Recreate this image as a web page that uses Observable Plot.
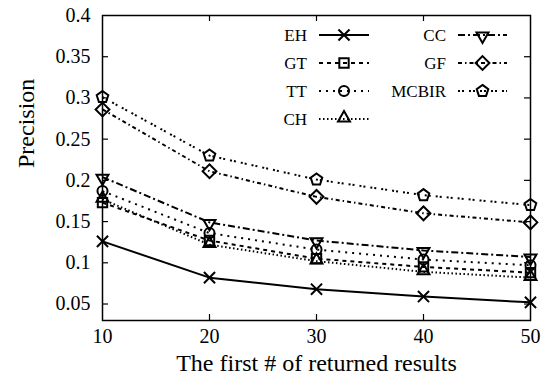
<!DOCTYPE html>
<html>
<head>
<meta charset="utf-8">
<script src="https://cdn.jsdelivr.net/npm/d3@7"></script>
<script src="https://cdn.jsdelivr.net/npm/@observablehq/plot@0.6"></script>
<style>
  html, body { margin: 0; padding: 0; background: #fff; }
  #chart { width: 551px; height: 385px; }
</style>
</head>
<body>
<div id="chart"></div>
<script>
// ---- data ----
const xValues = [10, 20, 30, 40, 50];
const EH    = [0.126, 0.082, 0.068, 0.059, 0.052];
const GT    = [0.173, 0.127, 0.105, 0.095, 0.088];
const TT    = [0.187, 0.136, 0.116, 0.104, 0.097];
const CH    = [0.177, 0.122, 0.102, 0.089, 0.082];
const CC    = [0.204, 0.149, 0.127, 0.115, 0.107];
const GF    = [0.286, 0.211, 0.180, 0.160, 0.149];
const MCBIR = [0.301, 0.230, 0.201, 0.182, 0.170];
const yTicks = [0.05, 0.1, 0.15, 0.2, 0.25, 0.3, 0.35, 0.4];
const yTickLabels = ["0.05", "0.1", "0.15", "0.2", "0.25", "0.3", "0.35", "0.4"];
const xTicks = [10, 20, 30, 40, 50];
const xTitle = "The first # of returned results";
const yTitle = "Precision";

// ---- custom hollow symbols ----
function poly(angles, k) {
  return {
    draw(ctx, size) {
      const R = Math.sqrt(size / Math.PI) * k;
      angles.forEach((a, i) => {
        const t = a * Math.PI / 180;
        const px = R * Math.cos(t), py = R * Math.sin(t);
        if (i === 0) ctx.moveTo(px, py); else ctx.lineTo(px, py);
      });
      ctx.closePath();
    }
  };
}
const symTimes = {
  draw(ctx, size) {
    const h = Math.sqrt(size / Math.PI) * 1.05;
    ctx.moveTo(-h, -h); ctx.lineTo(h, h);
    ctx.moveTo(h, -h); ctx.lineTo(-h, h);
  }
};
const symSquare = poly([45, 135, 225, 315], 1.25);
const symCircle = {
  draw(ctx, size) {
    const r = Math.sqrt(size / Math.PI) * 0.95;
    ctx.moveTo(r, 0); ctx.arc(0, 0, r, 0, 2 * Math.PI);
  }
};
const symTriUp = {
  draw(ctx, size) {
    const R = Math.sqrt(size / Math.PI) * 1.3;
    [-90, 30, 150].forEach((a, i) => {
      const t = a * Math.PI / 180;
      const px = R * Math.cos(t), py = R * Math.sin(t) - R * 0.15;
      if (i === 0) ctx.moveTo(px, py); else ctx.lineTo(px, py);
    });
    ctx.closePath();
  }
};
const symTriDown = {
  draw(ctx, size) {
    const R = Math.sqrt(size / Math.PI) * 1.3;
    [90, 210, 330].forEach((a, i) => {
      const t = a * Math.PI / 180;
      const px = R * Math.cos(t), py = R * Math.sin(t) + R * 0.15;
      if (i === 0) ctx.moveTo(px, py); else ctx.lineTo(px, py);
    });
    ctx.closePath();
  }
};
const symDiamond = poly([0, 90, 180, 270], 1.3);
const symPentagon = poly([-90, -18, 54, 126, 198], 1.15);

const series = [
  {name: "EH",    values: EH,    symbol: symTimes,    dash: null},
  {name: "GT",    values: GT,    symbol: symSquare,   dash: "4,4"},
  {name: "TT",    values: TT,    symbol: symCircle,   dash: "2,5"},
  {name: "CH",    values: CH,    symbol: symTriUp,    dash: "1.5,2.5"},
  {name: "CC",    values: CC,    symbol: symTriDown,  dash: "7,3,2,3"},
  {name: "GF",    values: GF,    symbol: symDiamond,  dash: "4,3,1.5,3"},
  {name: "MCBIR", values: MCBIR, symbol: symPentagon, dash: "2,2,2,5"}
];

const W = 551, H = 385;
const mL = 102, mR = 21, mT = 15, mB = 65;
const pw = W - mL - mR, ph = H - mT - mB;
const R = 5.3;

const marks = [];
for (const s of series) {
  const rows = xValues.map((x, i) => ({x, y: s.values[i]}));
  marks.push(Plot.line(rows, {x: "x", y: "y", stroke: "black", strokeWidth: 2,
    strokeDasharray: s.dash || undefined, strokeLinecap: "butt"}));
  marks.push(Plot.dot(rows, {x: "x", y: "y", symbol: s.symbol, r: R,
    stroke: "black", strokeWidth: 2, fill: "none"}));
}

const chart = Plot.plot({
  width: W, height: H,
  marginLeft: mL, marginRight: mR, marginTop: mT, marginBottom: mB,
  style: {fontFamily: "'Liberation Serif', 'Times New Roman', serif", fontSize: "20px", background: "white", color: "black"},
  x: {domain: [10, 50], axis: null},
  y: {domain: [0.03, 0.4], axis: null},
  marks: [
    Plot.axisY(yTicks, {tickSize: 0, tickPadding: 12, fontSize: 20,
      tickFormat: d => yTickLabels[yTicks.indexOf(d)], label: null}),
    Plot.axisX(xTicks, {tickSize: 0, tickPadding: 8, fontSize: 20, label: null}),
    Plot.tickY(yTicks.slice(0, -1), {y: d => d, stroke: "black", strokeWidth: 1.2, insetRight: pw - 6}),
    Plot.tickY(yTicks.slice(0, -1), {y: d => d, stroke: "black", strokeWidth: 1.2, insetLeft: pw - 6}),
    Plot.tickX(xTicks.slice(1, -1), {x: d => d, stroke: "black", strokeWidth: 1.2, insetTop: ph - 6}),
    Plot.tickX(xTicks.slice(1, -1), {x: d => d, stroke: "black", strokeWidth: 1.2, insetBottom: ph - 6}),
    ...marks,
    Plot.frame({stroke: "black", strokeWidth: 1.5}),
    Plot.text([yTitle], {frameAnchor: "left", dx: -76, rotate: -90, fontSize: 24}),
    Plot.text([xTitle], {frameAnchor: "bottom", dy: 50, fontSize: 24})
  ]
});
document.getElementById("chart").appendChild(chart);

// ---- in-plot legend (two columns) ----
const svg = d3.select(chart);
const lg = svg.append("g").attr("font-family", "'Liberation Serif', 'Times New Roman', serif").attr("font-size", 17);
const legendCols = [
  {textX: 307, x1: 319, x2: 369, items: ["EH", "GT", "TT", "CH"]},
  {textX: 446, x1: 458, x2: 507, items: ["CC", "GF", "MCBIR"]}
];
const rowY0 = 35, rowStep = 28;
for (const col of legendCols) {
  col.items.forEach((name, i) => {
    const s = series.find(d => d.name === name);
    const y = rowY0 + i * rowStep;
    lg.append("text").attr("x", col.textX).attr("y", y).attr("dy", "0.35em")
      .attr("text-anchor", "end").attr("fill", "black").text(name);
    lg.append("line").attr("x1", col.x1).attr("x2", col.x2).attr("y1", y).attr("y2", y)
      .attr("stroke", "black").attr("stroke-width", 2)
      .attr("stroke-dasharray", s.dash || null);
    const p = d3.path();
    s.symbol.draw(p, Math.PI * R * R);
    lg.append("path").attr("transform", `translate(${(col.x1 + col.x2) / 2},${y})`)
      .attr("d", p.toString()).attr("fill", "none").attr("stroke", "black").attr("stroke-width", 2);
  });
}
</script>
</body>
</html>
